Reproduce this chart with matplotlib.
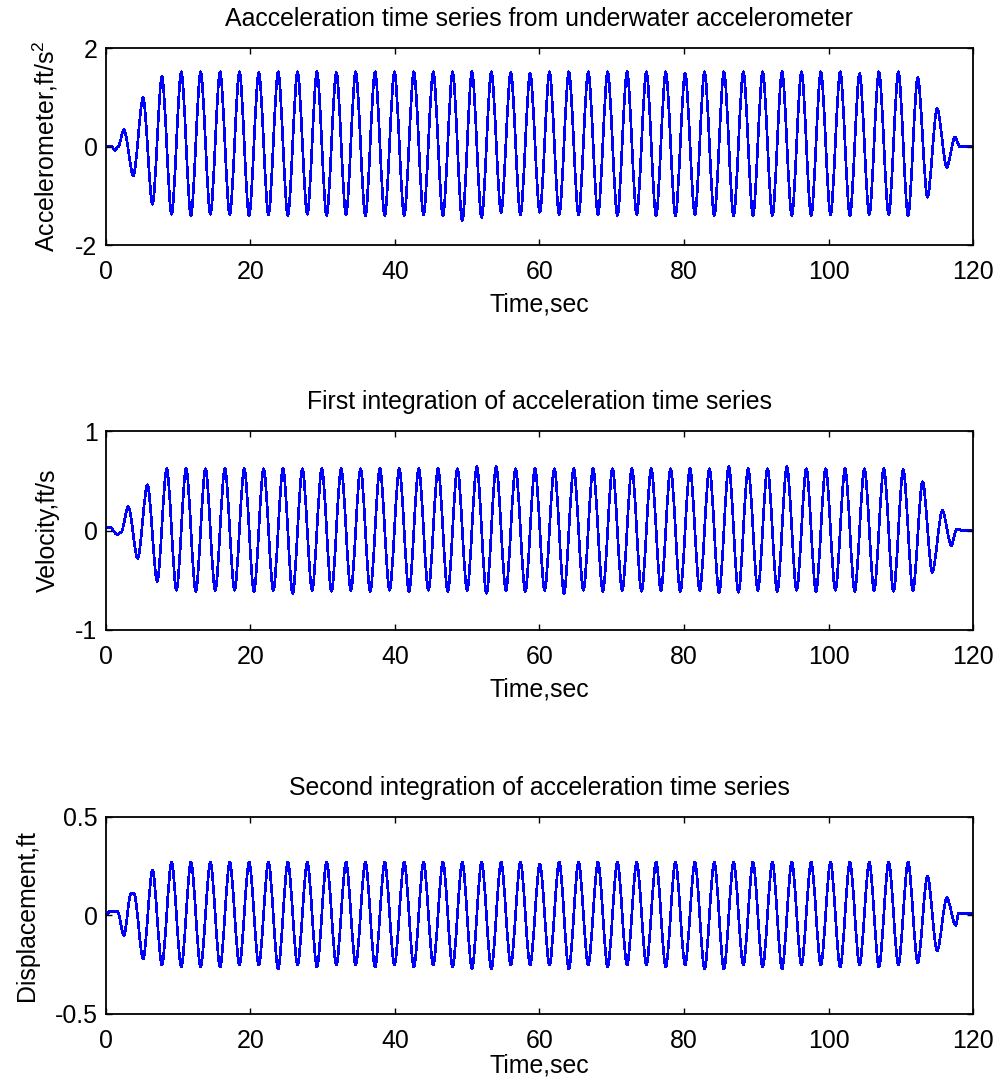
import matplotlib
matplotlib.use('Agg')
import numpy as np
import matplotlib.pyplot as plt
from matplotlib.path import Path
from matplotlib.patches import PathPatch

plt.rcParams['font.family'] = ['Liberation Sans', 'DejaVu Sans']
plt.rcParams['mathtext.fontset'] = 'custom'
plt.rcParams['mathtext.rm'] = 'Liberation Sans'
plt.rcParams['mathtext.it'] = 'Liberation Sans'
plt.rcParams['mathtext.default'] = 'regular'

# Turning points (peaks / troughs) of the steady wave train, seconds.
# Shared by the acceleration and displacement records.
cycle_t = [7.75, 9.09, 10.43, 11.77, 13.11, 14.46, 15.80, 17.14, 18.48, 19.82,
           21.16, 22.50, 23.84, 25.18, 26.52, 27.87, 29.21, 30.55, 31.89, 33.23,
           34.57, 35.91, 37.25, 38.59, 39.93, 41.28, 42.62, 43.96, 45.30, 46.64,
           47.98, 49.32, 50.66, 52.00, 53.34, 54.69, 56.03, 57.37, 58.71, 60.05,
           61.39, 62.73, 64.07, 65.41, 66.75, 68.10, 69.44, 70.78, 72.12, 73.46,
           74.80, 76.14, 77.48, 78.82, 80.16, 81.51, 82.85, 84.19, 85.53, 86.87,
           88.21, 89.55, 90.89, 92.23, 93.57, 94.92, 96.26, 97.60, 98.94, 100.28,
           101.62, 102.96, 104.30, 105.64, 106.98, 108.33, 109.67, 111.01, 112.35, 113.69]

# Turning points of the velocity record, seconds
vel_cycle_t = [8.42, 9.76, 11.10, 12.44, 13.78, 15.13, 16.47, 17.81, 19.15, 20.49,
               21.83, 23.17, 24.51, 25.85, 27.19, 28.54, 29.88, 31.22, 32.56, 33.90,
               35.24, 36.58, 37.92, 39.26, 40.60, 41.95, 43.29, 44.63, 45.97, 47.31,
               48.65, 49.99, 51.33, 52.67, 54.01, 55.36, 56.70, 58.04, 59.38, 60.72,
               62.06, 63.40, 64.74, 66.08, 67.42, 68.77, 70.11, 71.45, 72.79, 74.13,
               75.47, 76.81, 78.15, 79.49, 80.83, 82.18, 83.52, 84.86, 86.20, 87.54,
               88.88, 90.22, 91.56, 92.90, 94.24, 95.59, 96.93, 98.27, 99.61, 100.95,
               102.29, 103.63, 104.97, 106.31, 107.65, 109.00, 110.34, 111.68, 113.02, 114.36]

# Acceleration, ft/s^2
acc_lead_t = [0.0, 0.8, 1.25, 1.7, 2.5, 3.8, 5.15, 6.45]
acc_lead_v = [0.0, 0.0, -0.08, 0.0, 0.34, -0.59, 0.99, -1.17]
acc_cycle_v = [1.42, -1.37, 1.51, -1.40, 1.51, -1.37, 1.51, -1.38, 1.51, -1.40,
               1.50, -1.38, 1.51, -1.40, 1.51, -1.37, 1.51, -1.40, 1.50, -1.38,
               1.51, -1.40, 1.51, -1.40, 1.51, -1.40, 1.51, -1.38, 1.51, -1.40,
               1.51, -1.50, 1.51, -1.44, 1.51, -1.33, 1.50, -1.38, 1.48, -1.33,
               1.51, -1.38, 1.51, -1.38, 1.51, -1.38, 1.51, -1.40, 1.51, -1.38,
               1.51, -1.40, 1.51, -1.40, 1.48, -1.38, 1.51, -1.40, 1.51, -1.40,
               1.51, -1.40, 1.51, -1.40, 1.51, -1.40, 1.51, -1.40, 1.51, -1.38,
               1.51, -1.40, 1.48, -1.38, 1.51, -1.38, 1.51, -1.40, 1.40, -1.03]
acc_tail_t = [115.03, 116.37, 117.5, 118.2, 118.4, 120.0]
acc_tail_v = [0.77, -0.42, 0.19, -0.01, 0.0, 0.0]

# Velocity, ft/s
vel_lead_t = [0.0, 0.6, 1.55, 2.1, 3.1, 4.4, 5.75, 7.1]
vel_lead_v = [0.03, 0.03, -0.04, -0.02, 0.24, -0.28, 0.46, -0.51]
vel_cycle_v = [0.62, -0.60, 0.62, -0.61, 0.62, -0.60, 0.62, -0.60, 0.62, -0.61,
               0.62, -0.60, 0.62, -0.63, 0.62, -0.60, 0.62, -0.61, 0.62, -0.60,
               0.62, -0.61, 0.62, -0.60, 0.62, -0.61, 0.62, -0.60, 0.62, -0.61,
               0.62, -0.60, 0.64, -0.63, 0.64, -0.60, 0.62, -0.61, 0.62, -0.60,
               0.62, -0.63, 0.62, -0.60, 0.62, -0.61, 0.62, -0.60, 0.62, -0.61,
               0.62, -0.60, 0.62, -0.61, 0.62, -0.60, 0.62, -0.62, 0.64, -0.62,
               0.62, -0.60, 0.62, -0.61, 0.64, -0.60, 0.62, -0.61, 0.62, -0.60,
               0.62, -0.61, 0.62, -0.60, 0.62, -0.61, 0.61, -0.60, 0.49, -0.42]
vel_tail_t = [115.75, 117.0, 117.7, 118.2, 118.4, 120.0]
vel_tail_v = [0.20, -0.15, 0.01, 0.01, 0.0, 0.0]

# Displacement, ft
disp_lead_t = [0.0, 0.5, 1.6, 2.5, 3.45, 3.9, 5.15, 6.45]
disp_lead_v = [0.0, 0.02, 0.02, -0.10, 0.11, 0.11, -0.22, 0.23]
disp_cycle_v = [-0.25, 0.27, -0.26, 0.27, -0.26, 0.27, -0.26, 0.27, -0.25, 0.27,
                -0.25, 0.27, -0.27, 0.27, -0.25, 0.27, -0.26, 0.27, -0.25, 0.27,
                -0.25, 0.27, -0.26, 0.27, -0.25, 0.27, -0.26, 0.27, -0.25, 0.27,
                -0.26, 0.27, -0.27, 0.27, -0.27, 0.27, -0.25, 0.27, -0.25, 0.26,
                -0.25, 0.27, -0.27, 0.27, -0.25, 0.27, -0.26, 0.27, -0.25, 0.27,
                -0.25, 0.27, -0.26, 0.27, -0.25, 0.27, -0.27, 0.27, -0.27, 0.27,
                -0.25, 0.27, -0.26, 0.27, -0.27, 0.27, -0.25, 0.27, -0.25, 0.27,
                -0.26, 0.27, -0.25, 0.27, -0.26, 0.27, -0.25, 0.27, -0.24, 0.20]
disp_tail_t = [115.03, 116.37, 117.6, 118.0, 120.0]
disp_tail_v = [-0.18, 0.09, -0.05, 0.01, 0.01]

series = [
    (acc_lead_t + cycle_t + acc_tail_t, acc_lead_v + acc_cycle_v + acc_tail_v,
     'Aacceleration time series from underwater accelerometer',
     'Accelerometer,ft/s$^{2}$', [-2, 0, 2], ['-2', '0', '2']),
    (vel_lead_t + vel_cycle_t + vel_tail_t, vel_lead_v + vel_cycle_v + vel_tail_v,
     'First integration of acceleration time series',
     'Velocity,ft/s', [-1, 0, 1], ['-1', '0', '1']),
    (disp_lead_t + cycle_t + disp_tail_t, disp_lead_v + disp_cycle_v + disp_tail_v,
     'Second integration of acceleration time series',
     'Displacement,ft', [-0.5, 0, 0.5], ['-0.5', '0', '0.5']),
]


def wave_path(t, v):
    # smooth cubic segments between successive turning points,
    # flat tangents at each peak and trough
    verts = [(t[0], v[0])]
    codes = [Path.MOVETO]
    for t0, v0, t1, v1 in zip(t[:-1], v[:-1], t[1:], v[1:]):
        d = 0.3 * (t1 - t0)
        verts += [(t0 + d, v0), (t1 - d, v1), (t1, v1)]
        codes += [Path.CURVE4] * 3
    return Path(verts, codes)


fig = plt.figure(figsize=(9.99, 10.86), dpi=100)
rects = [[0.106, 0.7744, 0.868, 0.1814],
         [0.106, 0.4199, 0.868, 0.1832],
         [0.106, 0.0663, 0.868, 0.1814]]
xlabel_pads = [6, 6, 0]

fs = 17.9
for rect, xpad, (t, v, title, ylab, yt, ytl) in zip(rects, xlabel_pads, series):
    ax = fig.add_axes(rect)
    ax.add_patch(PathPatch(wave_path(t, v), fill=False, edgecolor='#0000ff',
                           lw=1.2, antialiased=False))
    ax.set_xlim(0, 120)
    ax.set_ylim(yt[0], yt[-1])
    ax.set_xticks(range(0, 121, 20))
    ax.set_xticklabels([str(x) for x in range(0, 121, 20)], fontsize=fs)
    ax.set_yticks(yt)
    ax.set_yticklabels(ytl, fontsize=fs)
    ax.tick_params(direction='in', top=True, right=True, length=4, width=1.0)
    ax.tick_params(axis='x', pad=11)
    ax.tick_params(axis='y', pad=6)
    for s in ax.spines.values():
        s.set_linewidth(1.3)
    ax.set_title(title, fontsize=fs, pad=16)
    ax.set_xlabel('Time,sec', fontsize=fs, labelpad=xpad)
    ax.set_ylabel(ylab, fontsize=fs, labelpad=11)

fig.savefig('out.png', dpi=100)
